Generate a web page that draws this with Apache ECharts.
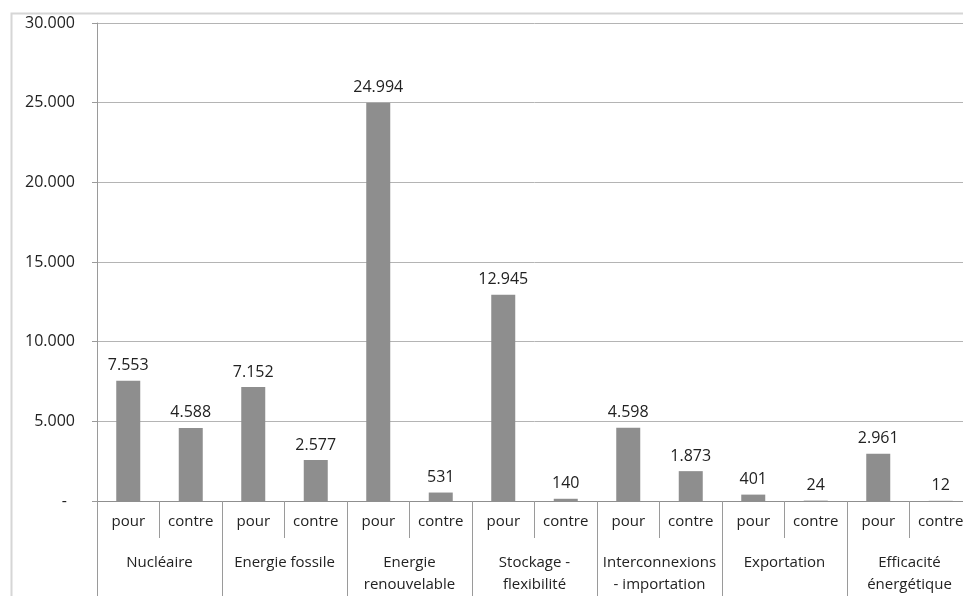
<!DOCTYPE html>
<html>
<head>
<meta charset="utf-8">
<script src="https://cdn.jsdelivr.net/npm/echarts@6/dist/echarts.min.js"></script>
<style>html,body{margin:0;padding:0;background:#fff;overflow:hidden;}#c{width:972px;height:596px;}</style>
</head>
<body>
<div id="c"></div>
<script>
const groups = ['Nucléaire', 'Energie fossile', 'Energie\nrenouvelable', 'Stockage -\nflexibilité', 'Interconnexions\n- importation', 'Exportation', 'Efficacité\nénergétique'];
const subLabels = ['pour', 'contre'];
const pourValues = [7553, 7152, 24994, 12945, 4598, 401, 2961];
const contreValues = [4588, 2577, 531, 140, 1873, 24, 12];
const yTicks = [0, 5000, 10000, 15000, 20000, 25000, 30000];

const cats = [];
const vals = [];
groups.forEach((g, i) => {
  cats.push(subLabels[0]); vals.push(pourValues[i]);
  cats.push(subLabels[1]); vals.push(contreValues[i]);
});
function fmt(v) {
  return String(v).replace(/\B(?=(\d{3})+(?!\d))/g, '.');
}
const FONT = 'Open Sans';
const chart = echarts.init(document.getElementById('c'), null, {renderer: 'canvas'});
chart.setOption({
  animation: false,
  backgroundColor: '#fff',
  textStyle: {fontFamily: FONT},
  grid: {left: 97, right: 0, top: 23, bottom: 93, containLabel: false},
  graphic: [{
    type: 'rect', left: 9, top: 11, z: -10,
    shape: {x: 0, y: 0, width: 1000, height: 1000},
    style: {fill: 'none', stroke: '#d6d6d6', lineWidth: 2}
  }],
  xAxis: [{
    type: 'category', data: cats, position: 'bottom',
    axisLine: {show: true, lineStyle: {color: '#8f8f8f', width: 1}},
    axisTick: {show: true, interval: 0, length: 37, lineStyle: {color: '#9a9a9a'}},
    axisLabel: {interval: 0, margin: 13, fontSize: 15, color: '#222', fontFamily: FONT}
  }, {
    type: 'category', data: groups, position: 'bottom', offset: 0,
    axisLine: {show: false},
    axisTick: {show: true, interval: 0, length: 100, lineStyle: {color: '#9a9a9a'}},
    axisLabel: {interval: 0, margin: 51, fontSize: 15, lineHeight: 22, color: '#222', fontFamily: FONT}
  }],
  yAxis: {
    type: 'value', min: yTicks[0], max: yTicks[yTicks.length - 1], interval: 5000,
    axisLine: {show: true, lineStyle: {color: '#9a9a9a'}},
    axisTick: {show: true, length: 5, lineStyle: {color: '#9a9a9a'}},
    splitLine: {show: true, lineStyle: {color: '#b4b4b4', width: 1}},
    axisLabel: {
      margin: 22, fontSize: 16, color: '#222', fontFamily: FONT,
      formatter: v => v === 0 ? '{d|-}' : fmt(v),
      rich: {d: {fontSize: 16, color: '#222', padding: [0, 8, 0, 0]}}
    }
  },
  series: [{
    type: 'bar', xAxisIndex: 0, data: vals, barWidth: 24,
    itemStyle: {color: '#8e8e8e'},
    label: {show: true, position: 'top', distance: 7, fontSize: 16, color: '#222', fontFamily: FONT, formatter: p => fmt(p.value)}
  }]
});
</script>
</body>
</html>
